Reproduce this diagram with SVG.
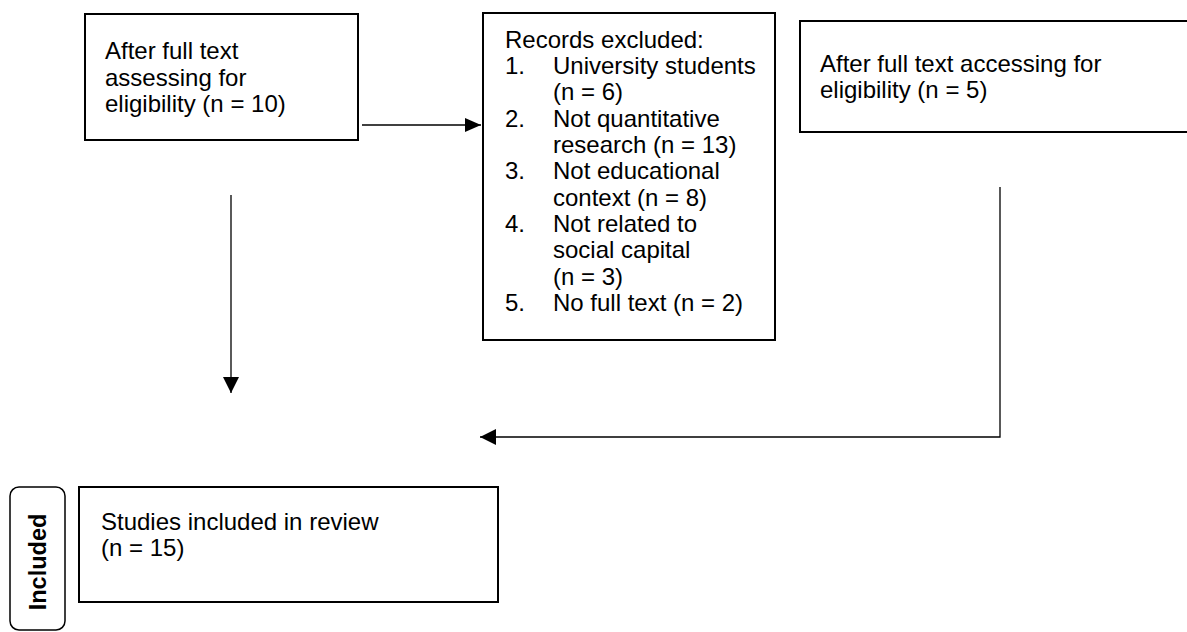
<svg xmlns="http://www.w3.org/2000/svg" width="1187" height="632" viewBox="0 0 1187 632">
<style>
.box{fill:#fff;stroke:#000;stroke-width:2}
.lbl{font-family:"Liberation Sans",Arial,sans-serif;font-size:24px;fill:#000}
.side{font-family:"Liberation Sans",Arial,sans-serif;font-size:23.5px;font-weight:bold;fill:#000}
.conn{fill:none;stroke:#000;stroke-width:1.3}
</style>
<defs>
<marker id="ah" markerUnits="userSpaceOnUse" markerWidth="16" markerHeight="16" refX="16" refY="8" orient="auto">
<path d="M0,0 L16,8 L0,16 z" fill="#000"/>
</marker>
<marker id="ahs" markerUnits="userSpaceOnUse" markerWidth="16" markerHeight="14" refX="16" refY="7" orient="auto">
<path d="M0,0 L16,7 L0,14 z" fill="#000"/>
</marker>
</defs>
<rect width="1187" height="632" fill="#fff"/>
<g id="connectors">
<line class="conn" x1="362" y1="125" x2="481" y2="125" marker-end="url(#ahs)"/>
<line class="conn" x1="231" y1="195" x2="231" y2="393" marker-end="url(#ah)"/>
<polyline class="conn" points="1000,187 1000,437 480,437" marker-end="url(#ah)"/>
</g>
<g id="fulltext10">
<rect class="box" x="85" y="14" width="273" height="126"/>
<text class="lbl" x="105" y="59">After full text</text>
<text class="lbl" x="105" y="86">assessing for</text>
<text class="lbl" x="105" y="112">eligibility (n = 10)</text>
</g>
<g id="excluded">
<rect class="box" x="483" y="13" width="292" height="327"/>
<text class="lbl" x="505" y="48">Records excluded:</text>
<text class="lbl" x="505" y="74">1.</text><text class="lbl" x="553" y="74">University students</text>
<text class="lbl" x="553" y="100">(n = 6)</text>
<text class="lbl" x="505" y="127">2.</text><text class="lbl" x="553" y="127">Not quantitative</text>
<text class="lbl" x="553" y="153">research (n = 13)</text>
<text class="lbl" x="505" y="179">3.</text><text class="lbl" x="553" y="179">Not educational</text>
<text class="lbl" x="553" y="206">context (n = 8)</text>
<text class="lbl" x="505" y="232">4.</text><text class="lbl" x="553" y="232">Not related to</text>
<text class="lbl" x="553" y="258">social capital</text>
<text class="lbl" x="553" y="285">(n = 3)</text>
<text class="lbl" x="505" y="311">5.</text><text class="lbl" x="553" y="311">No full text (n = 2)</text>
</g>
<g id="fulltext5">
<rect class="box" x="800" y="21" width="420" height="111"/>
<text class="lbl" x="820" y="72">After full text accessing for</text>
<text class="lbl" x="820" y="98">eligibility (n = 5)</text>
</g>
<g id="includedLabel">
<rect x="10" y="487" width="55" height="143" rx="9" ry="9" fill="#fff" stroke="#000" stroke-width="1.5"/>
<text class="side" x="0" y="0" text-anchor="middle" transform="translate(46,562) rotate(-90)">Included</text>
</g>
<g id="included">
<rect class="box" x="79" y="487" width="419" height="115"/>
<text class="lbl" x="101" y="530">Studies included in review</text>
<text class="lbl" x="101" y="556">(n = 15)</text>
</g>
</svg>
